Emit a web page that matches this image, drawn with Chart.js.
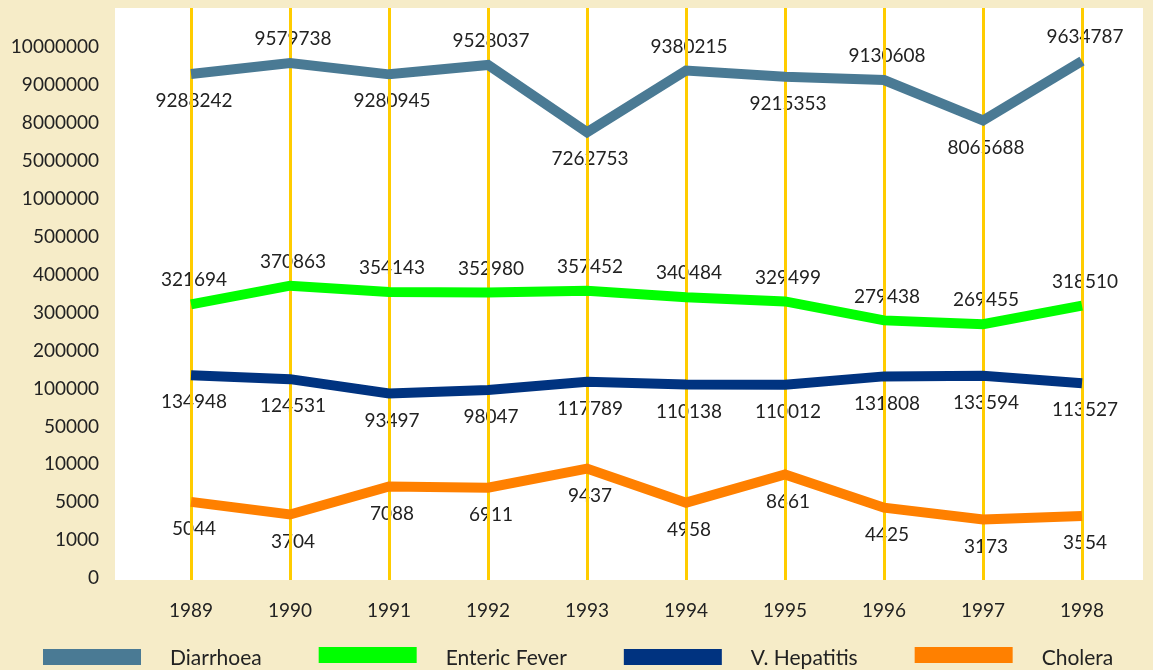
<!DOCTYPE html>
<html>
<head>
<meta charset="utf-8">
<script src="https://cdn.jsdelivr.net/npm/chart.js@4/dist/chart.umd.min.js"></script>
<style>
  html, body { margin: 0; padding: 0; background: #f6ecc8; }
  canvas { display: block; }
</style>
</head>
<body>
<canvas id="c" width="1153" height="670"></canvas>
<script>
// ---- data ----
const years = ['1989','1990','1991','1992','1993','1994','1995','1996','1997','1998'];
const diarrhoea = [9288242, 9579738, 9280945, 9528037, 7262753, 9380215, 9215353, 9130608, 8065688, 9634787];
const entericFever = [321694, 370863, 354143, 352980, 357452, 340484, 329499, 279438, 269455, 318510];
const vHepatitis = [134948, 124531, 93497, 98047, 117789, 110138, 110012, 131808, 133594, 113527];
const cholera = [5044, 3704, 7088, 6911, 9437, 4958, 8661, 4425, 3173, 3554];
const yTickValues = [0, 1000, 5000, 10000, 50000, 100000, 200000, 300000, 400000, 500000, 1000000, 5000000, 8000000, 9000000, 10000000];
const seriesNames = ['Diarrhoea', 'Enteric Fever', 'V. Hepatitis', 'Cholera'];

// piecewise mapping of a value onto the equally spaced tick positions of the axis
function toIndex(v) {
  const t = yTickValues;
  for (let i = 0; i < t.length - 1; i++) {
    if (v <= t[i + 1]) return i + (v - t[i]) / (t[i + 1] - t[i]);
  }
  return t.length - 1;
}

const FONT = 'Lato, "Open Sans", "DejaVu Sans", sans-serif';
const TEXT = '#222222';

const colors = ['#4a7a94', '#00ff00', '#003380', '#ff8000'];
const seriesValues = [diarrhoea, entericFever, vHepatitis, cholera];
// label placement rule per series: 'alt' = below on even, above on odd
const labelRule = ['alt', 'above', 'below', 'below'];

const datasets = seriesValues.map((vals, s) => ({
  label: seriesNames[s],
  data: vals.map((v, i) => ({ x: i, y: toIndex(v) })),
  rawValues: vals,
  labelRule: labelRule[s],
  borderColor: colors[s],
  backgroundColor: colors[s],
  borderWidth: 10,
  pointRadius: 0,
  tension: 0,
  borderJoinStyle: 'miter',
  borderCapStyle: 'butt',
  fill: false
}));

const bgPlugin = {
  id: 'bgAndLabels',
  beforeDraw(chart) {
    const { ctx, chartArea: a } = chart;
    ctx.save();
    ctx.fillStyle = '#f6ecc8';
    ctx.fillRect(0, 0, chart.width, chart.height);
    ctx.fillStyle = '#ffffff';
    ctx.fillRect(a.left, a.top, a.right - a.left, a.bottom - a.top);
    // value labels (drawn beneath grid lines and series lines)
    ctx.font = '19px ' + FONT;
    ctx.fillStyle = TEXT;
    ctx.textAlign = 'center';
    ctx.textBaseline = 'middle';
    chart.data.datasets.forEach((ds, di) => {
      const meta = chart.getDatasetMeta(di);
      meta.data.forEach((pt, i) => {
        let below;
        if (ds.labelRule === 'alt') below = (i % 2 === 0);
        else below = ds.labelRule === 'below';
        const dy = below ? 27 : -24;
        ctx.fillText(String(ds.rawValues[i]), pt.x + 3, pt.y + dy);
      });
    });
    ctx.restore();
  },
  afterDraw(chart) {
    // legend
    const { ctx } = chart;
    ctx.save();
    ctx.font = '21px ' + FONT;
    ctx.textBaseline = 'alphabetic';
    ctx.textAlign = 'left';
    let x = 43;
    chart.data.datasets.forEach((ds, di) => {
      const yTop = di % 2 === 0 ? 649 : 647;
      ctx.fillStyle = ds.borderColor;
      ctx.fillRect(x, yTop, 98, 16);
      ctx.fillStyle = TEXT;
      const tx = x + 98 + 29;
      ctx.fillText(ds.label, tx, 665);
      x = tx + ctx.measureText(ds.label).width + 57;
    });
    ctx.restore();
  }
};

new Chart(document.getElementById('c'), {
  type: 'line',
  data: { datasets },
  options: {
    responsive: false,
    animation: false,
    events: [],
    layout: { padding: { top: 8, right: 10, left: 0, bottom: 0 } },
    plugins: { legend: { display: false }, tooltip: { enabled: false } },
    scales: {
      x: {
        type: 'linear',
        min: -0.768,
        max: 9.616,
        afterBuildTicks(scale) { scale.ticks = years.map((_, i) => ({ value: i })); },
        afterFit(scale) { scale.height = 90; scale.paddingLeft = 0; scale.paddingRight = 0; },
        ticks: {
          callback: (v) => years[v],
          font: { family: FONT, size: 19 },
          color: TEXT,
          padding: 19,
          maxRotation: 0,
          autoSkip: false
        },
        grid: { color: '#ffcc00', lineWidth: 3, drawTicks: false, tickLength: 0 },
        border: { display: false }
      },
      y: {
        type: 'linear',
        min: -0.05,
        max: 15.03,
        afterBuildTicks(scale) { scale.ticks = yTickValues.map((_, i) => ({ value: i })); },
        afterFit(scale) { scale.width = 115; scale.paddingTop = 0; scale.paddingBottom = 0; },
        ticks: {
          callback: (v) => String(yTickValues[v]),
          font: { family: FONT, size: 19 },
          color: TEXT,
          padding: 16,
          autoSkip: false
        },
        grid: { display: false, drawTicks: false, tickLength: 0 },
        border: { display: false }
      }
    }
  },
  plugins: [bgPlugin]
});
</script>
</body>
</html>
